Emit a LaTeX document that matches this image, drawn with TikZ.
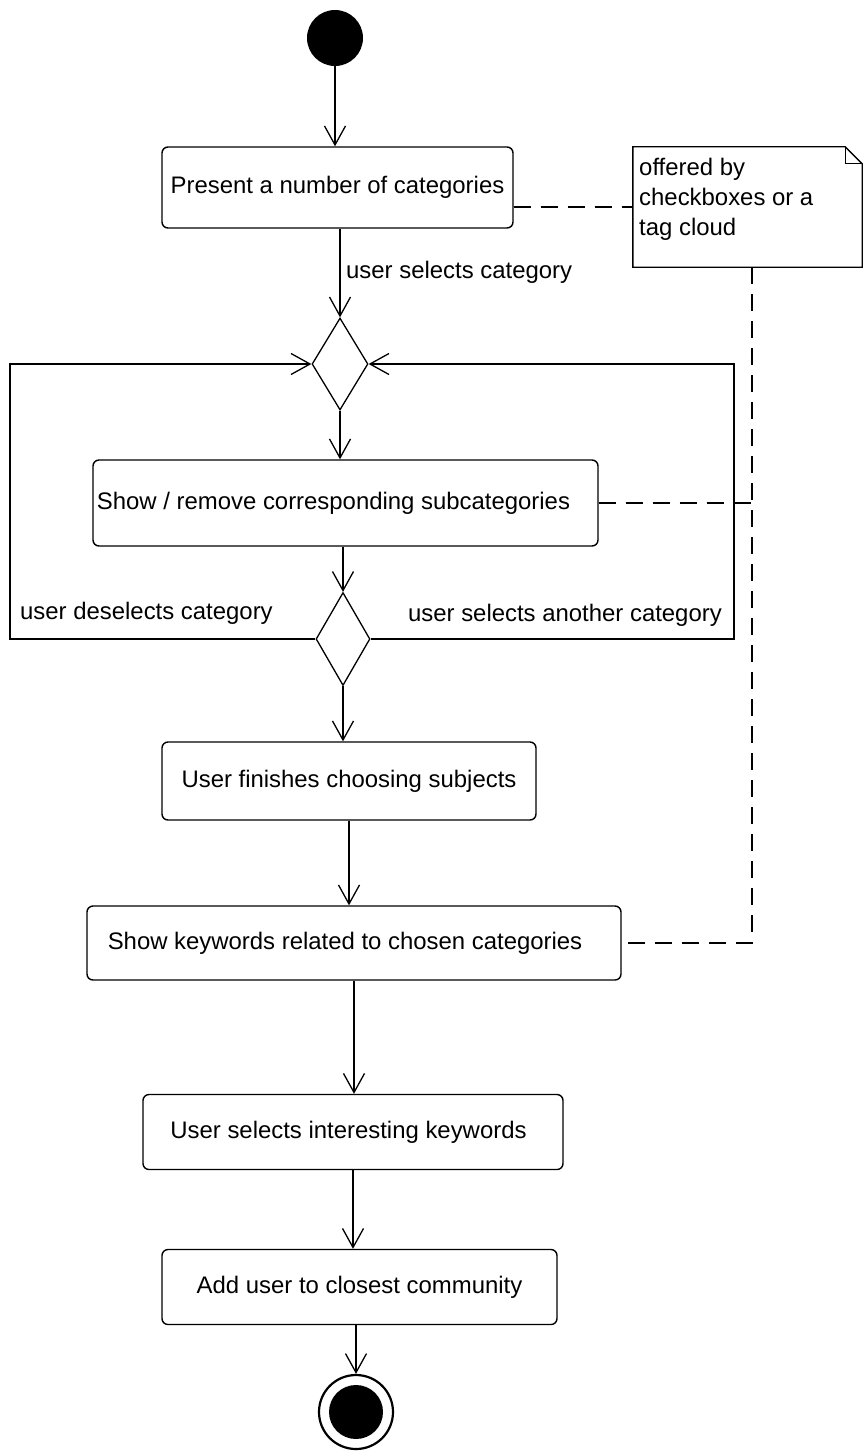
\documentclass[tikz,border=0pt]{standalone}
\usepackage{fontspec}
\setmainfont{Liberation Sans}
\usetikzlibrary{arrows.meta,shapes.geometric,calc}

\begin{document}
\begin{tikzpicture}[x=1bp,y=-1bp,
  every node/.style={font=\fontsize{24}{30}\selectfont},
  line/.style={line width=1.4bp},
  arr/.style={line width=1.4bp, -{Straight Barb[length=19bp,width=21bp,line width=1.3bp]}},
  dashline/.style={line width=1.4bp, dash pattern=on 17bp off 10bp},
  action/.style={draw, line width=1.4bp, rounded corners=6bp, inner sep=0pt},
  branch/.style={draw, diamond, line width=1.3bp, inner sep=0pt,
                 minimum width=56bp, minimum height=92bp},
  lbl/.style={inner sep=0pt}]

  % canvas
  \fill[white] (0,0) rectangle (864,1452);
  \useasboundingbox (0,0) rectangle (864,1452);

  % initial and final states
  \node[circle, fill=black, minimum size=56bp, inner sep=0pt] (start) at (335,38) {};
  \node[circle, draw, line width=2.2bp, minimum size=74bp, inner sep=0pt] (end) at (356,1412) {};
  \node[circle, fill=black, minimum size=54bp, inner sep=0pt] (endcore) at (end.center) {};

  % activities
  \node[action, minimum width=351bp, minimum height=81bp] (b1) at (337.5,187.5) {Present a number of categories};
  \node[branch] (d1) at (340,364) {};
  \node[action, minimum width=505bp, minimum height=86bp] (b2) at (345.5,503) {Show / remove corresponding subcategories\hspace*{24bp}};
  \node[branch, minimum width=54bp, minimum height=93bp] (d2) at (343,639) {};
  \node[action, minimum width=374bp, minimum height=78bp] (b3) at (349,781) {User finishes choosing subjects};
  \node[action, minimum width=534bp, minimum height=74bp] (b4) at (354,943) {Show keywords related to chosen categories\hspace*{18bp}};
  \node[action, minimum width=420bp, minimum height=75bp] (b5) at (353,1132) {User selects interesting keywords\hspace*{9bp}};
  \node[action, minimum width=395bp, minimum height=75bp] (b6) at (359.5,1287) {Add user to closest community};

  % comment note with folded corner
  \node[minimum width=229bp, minimum height=120bp, inner sep=0pt] (note) at (747.5,207) {};
  \draw[line] (note.north west) -- ($(note.north east)+(-17,0)$) -- ($(note.north east)+(0,17)$)
              -- (note.south east) -- (note.south west) -- cycle;
  \draw[line] ($(note.north east)+(-17,0)$) |- ($(note.north east)+(0,17)$);
  \node[anchor=north west, align=left, inner sep=0pt] (notetext) at (639,158)
       {offered by\\checkboxes or a\\tag cloud};

  % guard labels
  \node[lbl, anchor=west] (lsel) at (346,272) {user selects category};
  \node[lbl, anchor=west] (ldes) at (20,613) {user deselects category};
  \node[lbl, anchor=east] (lano) at (722,615) {user selects another category};

  % control flow
  \draw[arr] (start.south) -- (start.south |- b1.north);
  \draw[arr] (b1.south -| d1.north) -- (d1.north);
  \draw[arr] (d1.south) -- (d1.south |- b2.north);
  \draw[arr] (b2.south -| d2.north) -- (d2.north);
  \draw[arr] (d2.south) -- (d2.south |- b3.north);
  \draw[arr] (b3.south) -- (b3.south |- b4.north);
  \draw[arr] (b4.south) -- (b4.south |- b5.north);
  \draw[arr] (b5.south) -- (b5.south |- b6.north);
  \draw[arr] (b6.south -| end.north) -- (end.north);

  % loops back to the first decision
  \coordinate (loopL) at (10,0);
  \coordinate (loopR) at (734,0);
  \draw[arr] (d2.west) -- (d2.west -| loopL) -- (d1.west -| loopL) -- (d1.west);
  \draw[arr] (d2.east) -- (d2.east -| loopR) -- (d1.east -| loopR) -- (d1.east);

  % note anchors
  \coordinate (trunk) at (752,267);
  \draw[dashline] (b1.east |- note.west) -- (note.west);
  \draw[dashline] (trunk) -- (trunk |- b4.east) -- (b4.east);
  \draw[dashline] (b2.east) -- (b2.east -| trunk);
\end{tikzpicture}
\end{document}
